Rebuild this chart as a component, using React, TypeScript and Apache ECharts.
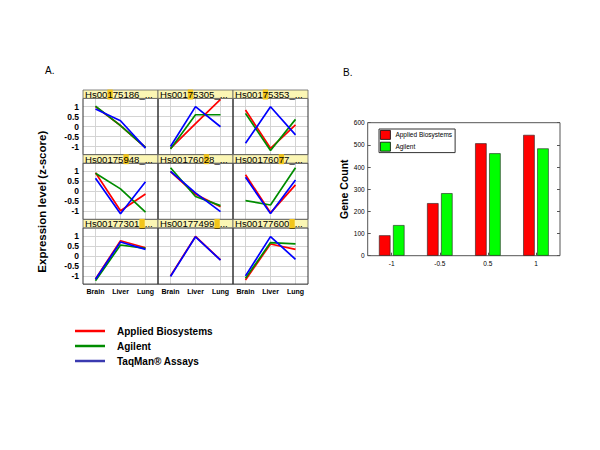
import React, { useEffect, useRef } from 'react';
import * as echarts from 'echarts';

// ---------- Data ----------
const tissues = ['Brain', 'Liver', 'Lung'];
const platformNames = ['Applied Biosystems', 'Agilent', 'TaqMan® Assays'];
const panelTitles = [
  'Hs00175186_...', 'Hs00175305_...', 'Hs00175353_...',
  'Hs00175948_...', 'Hs00176028_...', 'Hs00176077_...',
  'Hs00177301_...', 'Hs00177499_...', 'Hs00177600_...',
];
const highlightIdx = [4, 5, 5, 7, 8, 8, 10, 10, 10];

const abValues: (number[] | null)[] = [
  [1.0, 0.05, -1.05],
  [-1.09, 0.15, 1.36],
  [0.83, -1.09, 0.08],
  [0.93, -0.98, -0.14],
  [0.98, -0.15, -0.78],
  [0.83, -1.08, 0.32],
  [-1.15, 0.76, 0.41],
  [-1.0, 0.98, -0.2],
  [-1.2, 0.6, 0.33],
];
const agValues: (number[] | null)[] = [
  [1.02, 0.05, -1.05],
  [-1.12, 0.59, 0.59],
  [0.66, -1.2, 0.36],
  [0.9, 0.12, -1.05],
  [1.18, -0.26, -0.72],
  [-0.47, -0.69, 1.18],
  [-1.24, 0.55, 0.38],
  null,
  [-1.12, 0.67, 0.6],
];
const tqValues: (number[] | null)[] = [
  [0.88, 0.29, -1.08],
  [-1.0, 1.0, -0.01],
  [-0.84, 0.99, -0.42],
  [0.65, -1.13, 0.48],
  [1.0, -0.08, -1.02],
  [0.7, -1.12, 0.56],
  [-1.17, 0.7, 0.33],
  [-1.03, 0.96, -0.21],
  [-1.0, 0.97, -0.17],
];

const binLabels = ['-1', '-0.5', '0.5', '1'];
const abCounts = [92, 237, 507, 545];
const agCounts = [138, 282, 462, 484];

// ---------- Styles / layout ----------
const lineColors = ['#ff0000', '#008c00', '#0000ff'];
const legendLineColors = ['#ff0000', '#008c00', '#3a3ab0'];
const barColors = ['#ff0000', '#00ff00'];
const FONT = 'Arial, "Liberation Sans", sans-serif';
const colLeft = [83, 158, 233];
const rowTop = [90, 154.7, 219.4];
const panelW = 75;
const titleH = 8.4;
const plotH = 56.3;

export default function App() {
  const ref = useRef<HTMLDivElement>(null);
  useEffect(() => {
    if (!ref.current) return;
    const chart = echarts.init(ref.current, undefined, { renderer: 'svg' });

    const grids: any[] = [];
    const xAxes: any[] = [];
    const yAxes: any[] = [];
    const series: any[] = [];
    const graphics: any[] = [];
    const valueSets = [abValues, agValues, tqValues];

    for (let i = 0; i < 9; i++) {
      const r = Math.floor(i / 3);
      const c = i % 3;
      const left = colLeft[c];
      const top = rowTop[r] + titleH;
      grids.push({ left, top, width: panelW, height: plotH });
      xAxes.push({
        type: 'category', gridIndex: i, data: tissues, boundaryGap: true,
        axisLine: { show: false }, axisTick: { show: false }, splitLine: { show: false },
        axisLabel: { show: r === 2, fontSize: 7, fontWeight: 'bold', color: '#000', margin: 4, fontFamily: FONT },
      });
      yAxes.push({
        type: 'value', gridIndex: i, min: -1.41, max: 1.41,
        axisLine: { show: false }, axisTick: { show: false },
        splitLine: { show: true, lineStyle: { color: '#d4d4d4', width: 1 } },
        axisLabel: {
          show: c === 0, fontSize: 8.5, fontWeight: 'bold', color: '#000', margin: 4, fontFamily: FONT,
          showMinLabel: false, showMaxLabel: false,
          formatter: (v: number) => (Math.abs(v) <= 1.001 && Math.abs(v * 2 - Math.round(v * 2)) < 1e-6 ? String(Math.round(v * 2) / 2) : ''),
        },
      });
      let first = true;
      valueSets.forEach((vs, k) => {
        const vals = vs[i];
        if (!vals) return;
        const s: any = {
          type: 'line', name: platformNames[k], xAxisIndex: i, yAxisIndex: i,
          data: vals, symbol: 'none', z: 2 + k, silent: true,
          lineStyle: { color: lineColors[k], width: 1.7 },
          itemStyle: { color: lineColors[k] },
        };
        if (first) {
          // vertical gridlines at the three tissues
          s.markLine = {
            silent: true, symbol: ['none', 'none'], label: { show: false }, z: 1,
            lineStyle: { color: '#d4d4d4', width: 1, type: 'solid' },
            emphasis: { disabled: true },
            data: tissues.map((t) => ({ xAxis: t })),
          };
          first = false;
        }
        series.push(s);
      });
      // panel frame
      graphics.push({
        type: 'rect', z: 20, silent: true,
        shape: { x: left, y: top, width: panelW, height: plotH },
        style: { fill: 'transparent', stroke: '#333', lineWidth: 1 },
      });
      // title bar
      graphics.push({
        type: 'rect', z: 21, silent: true,
        shape: { x: left, y: rowTop[r], width: panelW, height: titleH },
        style: { fill: '#fbf6b4', stroke: '#666', lineWidth: 0.8 },
      });
      const t = panelTitles[i];
      const h = highlightIdx[i];
      graphics.push({
        type: 'text', z: 22, silent: true, x: left + 2, y: rowTop[r] + titleH / 2 + 0.3,
        style: {
          text: `{a|${t.slice(0, h)}}{h|${t.charAt(h)}}{a|${t.slice(h + 1)}}`,
          rich: {
            a: { fontSize: 9.6, fontFamily: FONT, color: '#000', lineHeight: 9 },
            h: { fontSize: 9.6, fontFamily: FONT, color: '#000', lineHeight: 9, backgroundColor: '#f2c51a' },
          },
          verticalAlign: 'middle', align: 'left',
        },
      });
    }

    // ---------- Bar chart (B) ----------
    grids.push({ left: 367.7, top: 122.7, width: 192.3, height: 133, show: true, borderColor: '#555', borderWidth: 1, backgroundColor: '#fff' });
    xAxes.push({
      type: 'category', gridIndex: 9, data: binLabels,
      axisLine: { show: false },
      axisTick: { show: true, inside: true, alignWithLabel: true, length: 3, lineStyle: { color: '#555' } },
      axisLabel: { fontSize: 6.5, color: '#000', margin: 4, fontFamily: FONT },
    });
    yAxes.push({
      type: 'value', gridIndex: 9, min: 0, max: 600, interval: 100,
      axisLine: { show: false }, splitLine: { show: false },
      axisTick: { show: true, inside: true, length: 3, lineStyle: { color: '#555' } },
      axisLabel: { fontSize: 6.5, color: '#000', margin: 3, fontFamily: FONT },
      name: 'Gene Count', nameLocation: 'middle', nameGap: 15,
      nameTextStyle: { fontSize: 10.5, fontWeight: 'bold', color: '#000', fontFamily: FONT },
    });
    yAxes.push({
      type: 'value', gridIndex: 9, min: 0, max: 600, interval: 100, position: 'right',
      axisLine: { show: false }, splitLine: { show: false }, axisLabel: { show: false },
      axisTick: { show: true, inside: true, length: 3, lineStyle: { color: '#555' } },
    });
    [abCounts, agCounts].forEach((vals, k) => {
      series.push({
        type: 'bar', name: platformNames[k], xAxisIndex: 9, yAxisIndex: 9, data: vals,
        barWidth: 11.5, barGap: '22%', silent: true,
        itemStyle: { color: barColors[k], borderColor: '#222', borderWidth: 0.6 },
      });
    });

    graphics.push(
      { type: 'text', z: 30, x: 45, y: 70, style: { text: 'A.', font: `10px ${FONT}`, fill: '#000', verticalAlign: 'middle' } },
      { type: 'text', z: 30, x: 343, y: 72, style: { text: 'B.', font: `10px ${FONT}`, fill: '#000', verticalAlign: 'middle' } },
      {
        type: 'text', z: 30, x: 42, y: 201.7, rotation: Math.PI / 2,
        style: { text: 'Expression level (z-score)', font: `bold 11.5px ${FONT}`, fill: '#000', align: 'center', verticalAlign: 'middle' },
      },
    );

    const option: any = {
      animation: false,
      backgroundColor: '#fff',
      grid: grids,
      xAxis: xAxes,
      yAxis: yAxes,
      series,
      graphic: graphics,
      legend: [
        {
          orient: 'vertical', left: 379, top: 129, selectedMode: false,
          itemWidth: 10, itemHeight: 9, itemGap: 2, padding: [1, 3, 1, 1],
          backgroundColor: '#fff', borderColor: '#333', borderWidth: 1,
          textStyle: { fontSize: 6.5, color: '#000', fontFamily: FONT },
          data: [0, 1].map((k) => ({
            name: platformNames[k], icon: 'rect',
            itemStyle: { color: barColors[k], borderColor: '#000', borderWidth: 0.8 },
          })),
        },
        {
          orient: 'vertical', left: 75, top: 325, selectedMode: false,
          itemWidth: 30, itemHeight: 2.5, itemGap: 3, padding: 0, icon: 'rect',
          textStyle: { fontSize: 10, fontWeight: 'bold', color: '#000', fontFamily: FONT, lineHeight: 12, padding: [0, 0, 0, 7] },
          data: [0, 1, 2].map((k) => ({
            name: platformNames[k], icon: 'rect',
            itemStyle: { color: legendLineColors[k], borderWidth: 0 },
          })),
        },
      ],
    };
    chart.setOption(option);
    return () => chart.dispose();
  }, []);

  return <div ref={ref} style={{ position: 'fixed', left: 0, top: 0, width: 600, height: 450 }} />;
}
